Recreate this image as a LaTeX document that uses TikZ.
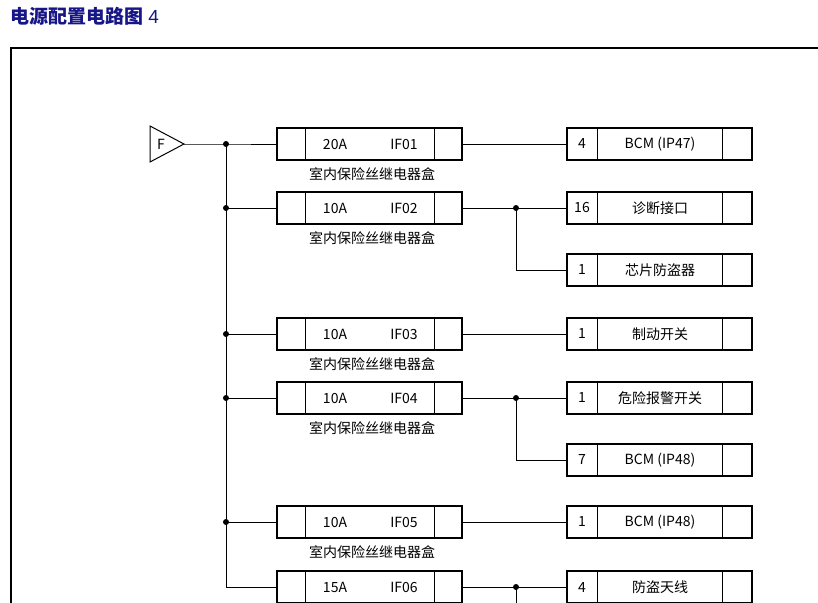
\documentclass[tikz,border=0pt]{standalone}
\usepackage{fontspec}
\setmainfont{Liberation Sans}
\newfontfamily\cjk{Noto Sans CJK SC}
\definecolor{ttl}{RGB}{22,22,135}
\begin{document}
\begin{tikzpicture}[x=1pt,y=-1pt,
  box/.style={draw,line width=1.6pt},
  ln/.style={line width=1pt},
  dot/.style={circle,fill,inner sep=0pt,minimum size=6pt},
  txt/.style={font=\fontsize{14}{14}\selectfont\cjk,inner sep=0pt}]
\useasboundingbox (0,0) rectangle (818,602);
\clip (0,0) rectangle (818,602);
\node[anchor=west,inner sep=0pt,text=ttl,font=\fontsize{19}{19}\selectfont] (title) at (10,16) {{\cjk\bfseries 电源配置电路图} 4};
\draw[line width=1.8pt] (11,860) -- (11,48) -- (830,48);
% source
\draw[ln] (150,126) -- (184,144) -- (150,162) -- cycle;
\node[txt] (F) at (161,144) {F};
\coordinate (src) at (184,144);
% fuse boxes
\newcommand{\fuse}[4]{%
  \draw[box] (277,#1-16) rectangle (462,#1+16);
  \draw[ln] (305,#1-16) -- (305,#1+16) (434,#1-16) -- (434,#1+16);
  \node[txt] at (335,#1) {#2};
  \node[txt] at (404,#1) {#3};
  \coordinate (fl#1) at (277,#1);
  \coordinate (fr#1) at (462,#1);
  #4}
\newcommand{\flabel}[1]{\node[txt] at (372,#1+30) {室内保险丝继电器盒};}
\fuse{144}{20A}{IF01}{\flabel{144}}
\fuse{208}{10A}{IF02}{\flabel{208}}
\fuse{334}{10A}{IF03}{\flabel{334}}
\fuse{398}{10A}{IF04}{\flabel{398}}
\fuse{522}{10A}{IF05}{\flabel{522}}
\fuse{587}{15A}{IF06}{}
\newcommand{\load}[3]{%
  \draw[box] (567,#1-16) rectangle (752,#1+16);
  \draw[ln] (597,#1-16) -- (597,#1+16) (722,#1-16) -- (722,#1+16);
  \node[txt] at (582,#1) {#2};
  \node[txt] at (660,#1) {#3};
  \coordinate (ll#1) at (567,#1);}
\load{144}{4}{BCM (IP47)}
\load{208}{16}{诊断接口}
\load{270}{1}{芯片防盗器}
\load{334}{1}{制动开关}
\load{398}{1}{危险报警开关}
\load{460}{7}{BCM (IP48)}
\load{522}{1}{BCM (IP48)}
\load{587}{4}{防盗天线}
% bus
\coordinate (b144) at (226,144);
\draw[ln] (src) -- (b144) -- (fl144);
\draw[ln] (b144) -- (226,587) -- (fl587);
\foreach \y in {208,334,398,522} \draw[ln] (226,\y) -- (fl\y);
\foreach \y in {144,208,334,398,522} \node[dot] at (226,\y) {};
% outputs
\draw[ln] (fr144) -- (ll144);
\draw[ln] (fr334) -- (ll334);
\draw[ln] (fr522) -- (ll522);
\draw[ln] (fr208) -- (ll208) (516,208) -- (516,270) -- (ll270);
\draw[ln] (fr398) -- (ll398) (516,398) -- (516,460) -- (ll460);
\draw[ln] (fr587) -- (ll587) (516,587) -- (516,610);
\foreach \y in {208,398,587} \node[dot] at (516,\y) {};
\end{tikzpicture}
\end{document}
